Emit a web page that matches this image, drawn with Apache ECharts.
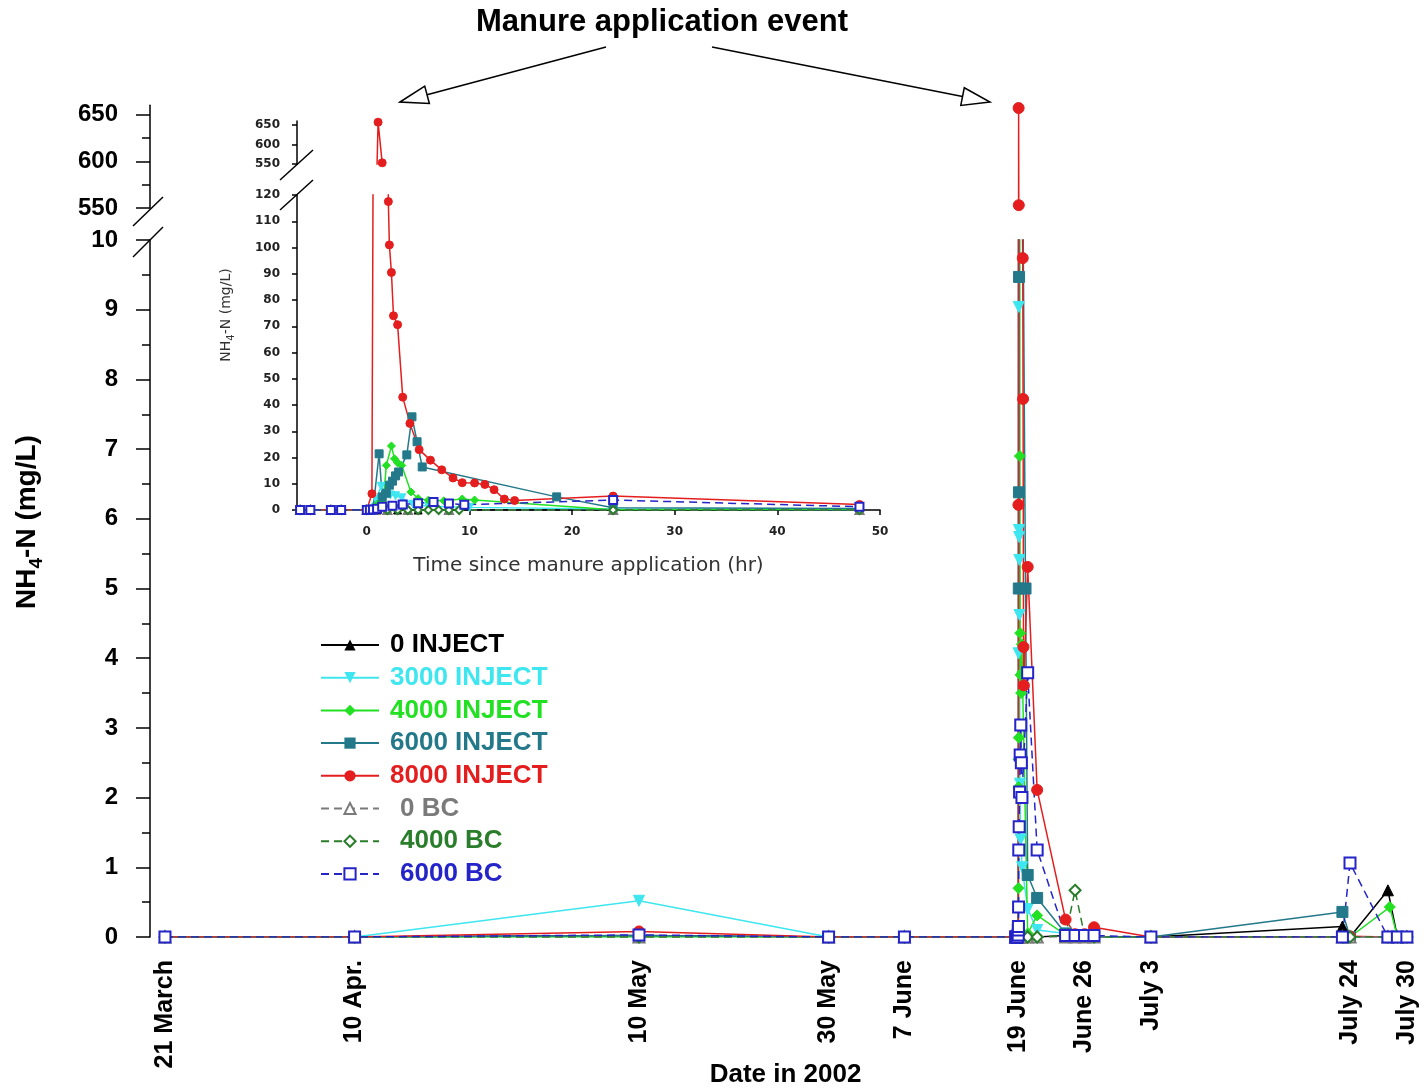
<!DOCTYPE html>
<html><head><meta charset="utf-8">
<script src="https://cdn.jsdelivr.net/npm/echarts@6/dist/echarts.min.js"></script>
<style>html,body{margin:0;padding:0;background:#fff}#c{width:1426px;height:1090px}</style>
</head><body><div id="c"></div>
<script>
// ---------------- DATA ----------------
const seriesNames = ['0 INJECT','3000 INJECT','4000 INJECT','6000 INJECT','8000 INJECT','0 BC','4000 BC','6000 BC'];
const applicationDay = 90; // 19 June = day 90 after 21 March 2002
const dateTickDays = [0, 20, 50, 70, 78, 90, 97, 104, 125, 131];
const dateTickLabels = ['21 March','10 Apr.','10 May','30 May','7 June','19 June','June 26','July 3','July 24','July 30'];
const hourTicks = [0, 10, 20, 30, 40, 50];
const upperTicks = [550, 600, 650];
const upperMinorTicks = [575, 625];

// main chart, before the event: [day, mg/L]
const inj0Before    = [[0,0],[20,0],[50,0.02],[70,0],[78,0]];
const inj3000Before = [[0,0],[20,0],[50,0.52],[70,0],[78,0]];
const inj4000Before = [[0,0],[20,0],[50,0],[70,0],[78,0]];
const inj6000Before = [[0,0],[20,0],[50,0.02],[70,0],[78,0]];
const inj8000Before = [[0,0],[20,0],[50,0.08],[70,0],[78,0]];
const bc0Before     = [[0,0],[20,0],[50,0],[70,0],[78,0]];
const bc4000Before  = [[0,0],[20,0],[50,0],[70,0],[78,0]];
const bc6000Before  = [[0,0],[20,0],[50,0.03],[70,0],[78,0]];

// around the event: [hours since application, mg/L]
const inj0Hours    = [[-6.5,0],[-5.5,0],[-3.5,0],[-2.5,0],[0,0],[1,0],[2,0.02],[3,0],[5,0],[8,0],[24,0],[48,0]];
const inj3000Hours = [[-6.5,0],[-5.5,0],[-3.5,0],[-2.5,0],[0,0.02],[0.9,4.07],[1.4,9.04],[1.9,5.84],[2.3,5.74],[2.8,5.41],[3.4,4.62],[4.5,2.2],[6,1.4],[10,1.0],[24,0.4],[48,0.1]];
const inj4000Hours = [[-6.5,0],[-5.5,0],[-3.5,0],[-2.5,0],[0,0.02],[0.7,0.7],[1.0,2.15],[1.3,2.55],[1.6,2.86],[1.9,17],[2.4,24.4],[2.7,19.5],[3.0,18],[3.4,17],[4.3,6.9],[5.0,4.36],[6.0,3.76],[7.5,3.5],[9.3,4.2],[10.5,3.8],[24,0.05],[48,0.31]];
const inj6000Hours = [[-6.5,0],[-5.5,0],[-3.5,0],[-2.5,0],[0,0.02],[0.6,0.1],[1.2,21.4],[1.5,5],[1.9,6.38],[2.2,9.47],[2.5,11],[2.8,13],[3.1,14.5],[3.9,21],[4.4,35.5],[4.9,26],[5.4,16.4],[18.5,5.0],[24,0.89],[48,0.56]];
const inj8000Hours = [[-6.5,0],[-5.5,0],[-3.5,0],[-2.5,0],[0,0.05],[0.5,6.2],[1.1,657],[1.5,553],[2.1,117.5],[2.2,101],[2.4,90.5],[2.6,74],[3.0,70.6],[3.5,43],[4.2,33],[5.1,23],[6.2,19],[7.3,15.3],[8.4,12.2],[9.3,10.4],[10.5,10.3],[11.5,9.74],[12.4,7.72],[13.4,4.16],[14.4,3.61],[24,5.31],[48,2.11]];
const bc0Hours     = [[-6.5,0],[-5.5,0],[-3.5,0],[-2.5,0],[0,0],[2,0],[4,0],[8,0],[24,0],[48,0]];
const bc4000Hours  = [[-6.5,0],[-5.5,0],[-3.5,0],[-2.5,0],[0,0],[2,0],[3,0],[4,0],[5,0],[6,0],[7,0],[8,0],[9,0],[24,0],[48,0]];
const bc6000Hours  = [[-6.5,0],[-5.5,0],[-3.5,0],[-2.5,0],[0,0.03],[0.3,0.1],[0.6,0.15],[1.0,0.43],[1.5,1.25],[2.5,1.58],[3.5,2.08],[5,2.61],[6.5,3.04],[8,2.5],[9.5,2.0],[24,3.79],[48,1.25]];

// main chart, after the event: [day, mg/L]
const inj0After    = [[95,0.02],[96,0.02],[97,0],[98,0],[104,0],[124.2,0.15],[125,0],[129,0.67],[130,0],[131,0]];
const inj3000After = [[95,0.05],[96,0],[97,0],[98,0],[104,0],[124.2,0],[125,0],[129,0],[130,0],[131,0]];
const inj4000After = [[95,0.03],[96,0],[97,0],[98,0],[104,0],[124.2,0],[125,0],[129.2,0.43],[130,0],[131,0]];
const inj6000After = [[95,0.05],[96,0.02],[97,0],[98,0],[104,0],[124.2,0.36],[125,0],[129,0],[130,0],[131,0]];
const inj8000After = [[95,0.25],[96,0.04],[97,0.04],[98,0.14],[104,0],[124.2,0],[125,0.01],[129,0],[130,0],[131,0]];
const bc0After     = [[95,0],[96,0],[97,0],[98,0],[104,0],[124.2,0],[125,0],[129,0],[130,0],[131,0]];
const bc4000After  = [[95,0.02],[96,0.67],[97,0.02],[98,0],[104,0],[124.2,0],[125,0],[129,0],[130,0],[131,0]];
const bc6000After  = [[95,0.02],[96,0.02],[97,0.02],[98,0.02],[104,0],[124.2,0],[125,1.06],[129,0],[130,0],[131,0]];

// ---------------- STYLE ----------------
const beforeSets = [inj0Before,inj3000Before,inj4000Before,inj6000Before,inj8000Before,bc0Before,bc4000Before,bc6000Before];
const hourSets   = [inj0Hours,inj3000Hours,inj4000Hours,inj6000Hours,inj8000Hours,bc0Hours,bc4000Hours,bc6000Hours];
const afterSets  = [inj0After,inj3000After,inj4000After,inj6000After,inj8000After,bc0After,bc4000After,bc6000After];
const colors = ['#000000','#3ee6f0','#22e022','#23798a','#e41e1e','#7a7a7a','#2a7d2a','#2424c8'];
const symbols = ['triangle','triangle','diamond','rect','circle','emptyTriangle','emptyDiamond','emptyRect'];
const symbolRotates = [0,180,0,0,0,0,0,0];
const lineTypes = ['solid','solid','solid','solid','solid','dashed','dashed','dashed'];
const FONT = '"Liberation Sans", Arial, sans-serif';
const SMALLFONT = '"DejaVu Sans", Verdana, sans-serif';

function toDays(hours) { return hours.map(p => [applicationDay + p[0] / 24, p[1]]); }

function lineSeries(i, data, xi, yi, size) {
  return {
    name: seriesNames[i], type: 'line', xAxisIndex: xi, yAxisIndex: yi, data: data,
    symbol: symbols[i], symbolRotate: symbolRotates[i], symbolSize: size,
    showAllSymbol: true, clip: true, animation: false,
    lineStyle: { color: colors[i], width: 1.5, type: lineTypes[i] === 'dashed' ? [8, 5] : 'solid' },
    itemStyle: { color: colors[i], borderColor: colors[i] },
    emphasis: { disabled: true }
  };
}

const series = [];
for (let i = 0; i < seriesNames.length; i++) {
  const mainData = beforeSets[i].concat(toDays(hourSets[i]), afterSets[i]);
  series.push(lineSeries(i, mainData, 1, 2, 11));
  series.push(lineSeries(i, hourSets[i], 3, 4, 8));
  if (seriesNames[i] === '8000 INJECT') {
    series.push(lineSeries(i, mainData, 0, 0, 11));
    series.push(lineSeries(i, hourSets[i], 2, 3, 8));
  }
}

const mainX = { min: -1.58, max: 132.5 };
const insetX = { min: -6.8, max: 50 };

const bigLabel = { color: '#000', fontFamily: FONT, fontWeight: 'bold', fontSize: 24 };
const smallLabel = { color: '#222', fontFamily: SMALLFONT, fontWeight: 'bold', fontSize: 12 };
const yLine = { show: true, onZero: false, lineStyle: { color: '#000', width: 1.5 } };

const legendData = seriesNames.map((n, i) => ({
  name: n,
  textStyle: { color: colors[i], padding: i < 5 ? [0, 0, 0, 6] : [0, 0, 0, 16] }
}));

function arrow(x1, y1, x2, y2) {
  const dx = x2 - x1, dy = y2 - y1, L = Math.hypot(dx, dy);
  const ux = dx / L, uy = dy / L, hl = 28, hw = 9;
  const bx = x2 - ux * hl, by = y2 - uy * hl;
  return [
    { type: 'line', shape: { x1: x1, y1: y1, x2: bx, y2: by }, style: { stroke: '#000', lineWidth: 1.5 } },
    { type: 'polygon', shape: { points: [[x2, y2], [bx - uy * hw, by + ux * hw], [bx + uy * hw, by - ux * hw]] },
      style: { fill: '#fff', stroke: '#000', lineWidth: 1.5 } }
  ];
}
function slash(x1, y1, x2, y2) {
  return { type: 'line', shape: { x1: x1, y1: y1, x2: x2, y2: y2 }, style: { stroke: '#000', lineWidth: 1.5 } };
}

const option = {
  backgroundColor: '#fff',
  animation: false,
  grid: [
    { left: 150, top: 105.2, width: 1271.1, height: 102.8, outerBoundsMode: 'none', containLabel: false },
    { left: 150, top: 240, width: 1271.1, height: 697, outerBoundsMode: 'none', containLabel: false },
    { left: 297, top: 121, width: 583, height: 43, outerBoundsMode: 'none', containLabel: false },
    { left: 297, top: 195, width: 583, height: 315, outerBoundsMode: 'none', containLabel: false }
  ],
  xAxis: [
    { type: 'value', gridIndex: 0, min: mainX.min, max: mainX.max, show: false },
    { type: 'value', gridIndex: 1, min: mainX.min, max: mainX.max,
      axisLine: { show: false }, axisTick: { show: false }, splitLine: { show: false },
      axisLabel: Object.assign({}, bigLabel, { fontSize: 25, rotate: 90, margin: 23, customValues: dateTickDays,
        formatter: v => { const k = dateTickDays.indexOf(v); return k >= 0 ? dateTickLabels[k] : ''; } }),
      name: 'Date in 2002', nameLocation: 'middle', nameGap: 125, nameMoveOverlap: false,
      nameTextStyle: { color: '#000', fontFamily: FONT, fontWeight: 'bold', fontSize: 26 } },
    { type: 'value', gridIndex: 2, min: insetX.min, max: insetX.max, show: false },
    { type: 'value', gridIndex: 3, min: insetX.min, max: insetX.max,
      axisLine: { show: true, lineStyle: { color: '#000', width: 1.5 } }, splitLine: { show: false },
      axisTick: { show: true, length: 5, customValues: hourTicks, lineStyle: { color: '#000', width: 1.5 } },
      axisLabel: Object.assign({}, smallLabel, { margin: 16, customValues: hourTicks }),
      name: 'Time since manure application (hr)', nameLocation: 'middle', nameGap: 46, nameMoveOverlap: false,
      nameTextStyle: { color: '#333', fontFamily: SMALLFONT, fontSize: 20 } }
  ],
  yAxis: [
    { type: 'value', gridIndex: 0, min: 550, max: 660, position: 'left',
      axisLine: yLine, splitLine: { show: false },
      axisTick: { show: true, length: 14, customValues: upperTicks, lineStyle: { color: '#000', width: 1.5 } },
      axisLabel: Object.assign({}, bigLabel, { margin: 32, customValues: upperTicks }) },
    { type: 'value', gridIndex: 0, min: 550, max: 660, position: 'left', offset: 0,
      axisLine: { show: false, onZero: false }, splitLine: { show: false }, axisLabel: { show: false },
      axisTick: { show: true, length: 8, customValues: upperMinorTicks, lineStyle: { color: '#000', width: 1.5 } } },
    { type: 'value', gridIndex: 1, min: 0, max: 10, interval: 1,
      axisLine: yLine, splitLine: { show: false },
      axisTick: { show: true, length: 14, lineStyle: { color: '#000', width: 1.5 } },
      minorTick: { show: true, splitNumber: 2, length: 8, lineStyle: { color: '#000', width: 1.5 } },
      axisLabel: Object.assign({}, bigLabel, { margin: 32 }) },
    { type: 'value', gridIndex: 2, min: 550, max: 660,
      axisLine: yLine, splitLine: { show: false },
      axisTick: { show: true, length: 5, customValues: upperTicks, lineStyle: { color: '#000', width: 1.5 } },
      axisLabel: Object.assign({}, smallLabel, { margin: 17, customValues: upperTicks }) },
    { type: 'value', gridIndex: 3, min: 0, max: 120, interval: 10,
      axisLine: yLine, splitLine: { show: false },
      axisTick: { show: true, length: 5, lineStyle: { color: '#000', width: 1.5 } },
      axisLabel: Object.assign({}, smallLabel, { margin: 17 }) }
  ],
  legend: {
    orient: 'vertical', left: 320, top: 632, padding: 0, itemWidth: 58, itemHeight: 14, itemGap: 6.7,
    selectedMode: false,
    textStyle: { fontFamily: FONT, fontWeight: 'bold', fontSize: 26, lineHeight: 26 },
    data: legendData
  },
  series: series,
  graphic: [
    { type: 'text', x: 662, y: 22, style: { text: 'Manure application event', fill: '#000',
      font: 'bold 31px ' + FONT, textAlign: 'center', textVerticalAlign: 'middle' } },
    ...arrow(606, 47, 400, 102),
    ...arrow(712, 47, 990, 102),
    slash(133, 226, 163, 197), slash(133, 257, 163, 227),
    slash(280, 180, 313, 150), slash(280, 210, 313, 180),
    { type: 'text', x: 30, y: 522, rotation: Math.PI / 2,
      style: { text: '{a|NH}{b|4}{a|-N (mg/L)}', textAlign: 'center', textVerticalAlign: 'middle',
        rich: {
          a: { fontFamily: FONT, fontWeight: 'bold', fontSize: 28, fill: '#000', verticalAlign: 'top', padding: [0, 0, 5, 0] },
          b: { fontFamily: FONT, fontWeight: 'bold', fontSize: 19, fill: '#000', verticalAlign: 'bottom' }
        } } },
    { type: 'text', x: 228, y: 315, rotation: Math.PI / 2,
      style: { text: '{a|NH}{b|4}{a|-N (mg/L)}', textAlign: 'center', textVerticalAlign: 'middle',
        rich: {
          a: { fontFamily: SMALLFONT, fontSize: 14, fill: '#333', verticalAlign: 'top', padding: [0, 0, 3, 0] },
          b: { fontFamily: SMALLFONT, fontSize: 10, fill: '#333', verticalAlign: 'bottom' }
        } } }
  ]
};

const chart = echarts.init(document.getElementById('c'), null, { renderer: 'canvas' });
chart.setOption(option);
</script>
</body></html>
